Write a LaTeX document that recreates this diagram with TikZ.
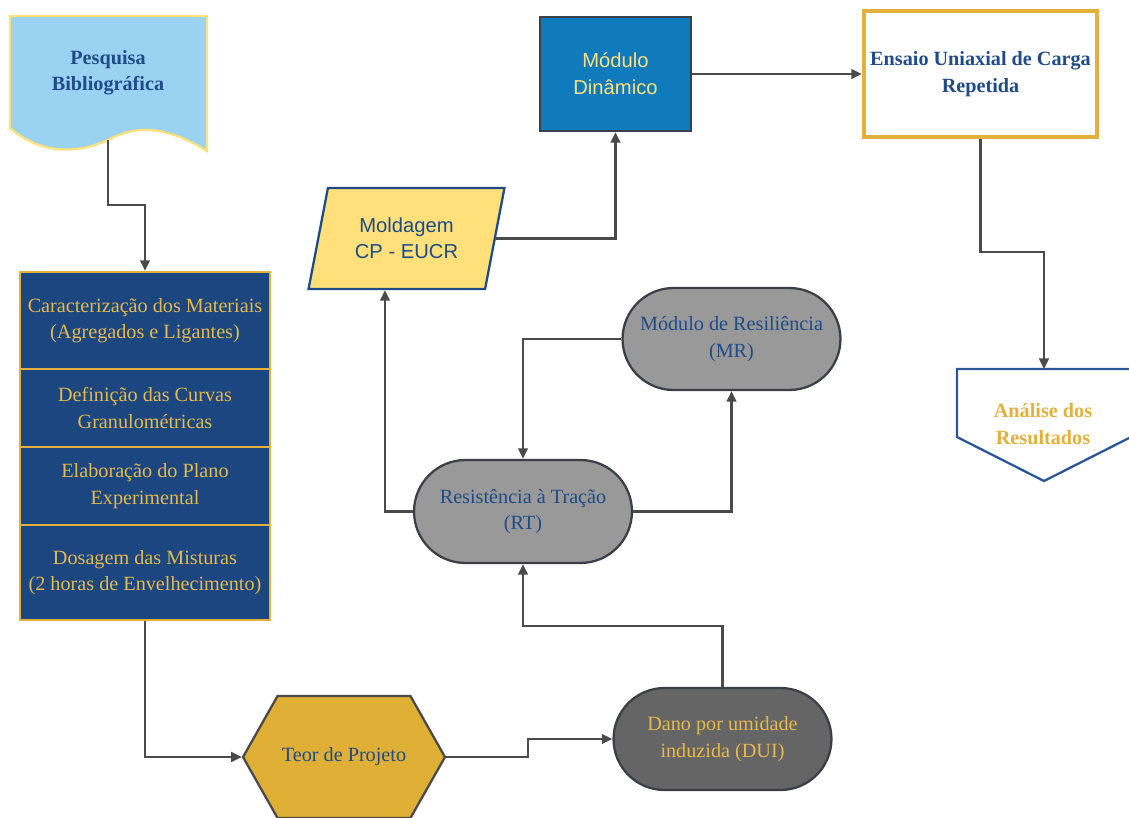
\documentclass[tikz,border=0pt]{standalone}
\usepackage{fontspec}
\setmainfont{Liberation Serif}
\setsansfont{Liberation Sans}
\usetikzlibrary{arrows.meta,shapes.misc,shapes.geometric,shapes.symbols}

\definecolor{navy}{HTML}{1B4680}
\definecolor{gold}{HTML}{E2B13C}
\definecolor{goldtext}{HTML}{E5B94B}
\definecolor{textblue}{HTML}{1F4B87}
\definecolor{skyblue}{HTML}{9AD2F2}
\definecolor{paleyellow}{HTML}{FFE07A}
\definecolor{ochre}{HTML}{DFAF36}
\definecolor{pillgray}{HTML}{999999}
\definecolor{darkgray}{HTML}{656565}
\definecolor{edgegray}{HTML}{3B4048}
\definecolor{linegray}{HTML}{4A4A4A}
\definecolor{oceanblue}{HTML}{0F7BBC}
\definecolor{frameblue}{HTML}{2A5599}

\tikzset{
  txt/.style={font=\fontsize{11.5}{15}\selectfont, align=center},
  flow/.style={draw=linegray, line width=1.3pt, -{Triangle[length=6pt,width=5.5pt]}},
  stackbox/.style={txt, rectangle, draw=gold, fill=navy, text=goldtext,
    line width=1.3pt, minimum width=5cm, inner sep=2pt},
  pill/.style={txt, rounded rectangle, draw=edgegray, fill=pillgray,
    text=textblue, line width=1.3pt, minimum width=4.5cm,
    minimum height=2.04cm, inner sep=2pt},
}

\begin{document}
\begin{tikzpicture}[x=0.02cm,y=-0.02cm]
\useasboundingbox (0,0) rectangle (1129,818);

%PESQUISA
\draw[draw=paleyellow, fill=skyblue, line width=1.3pt]
  (10,16) -- (10,128) .. controls (45,158) and (85,152) .. (112,138)
  .. controls (140,124) and (170,128) .. (207,151) -- (207,16) -- cycle;
\node (pesq) at (108,73) [txt, text=textblue, font=\fontsize{11.5}{15}\selectfont\bfseries]
  {Pesquisa\\Bibliográfica};
\coordinate (pesqout) at (108,140);

%STACK
\node (carac) at (145,320.5) [stackbox, minimum height=1.94cm]
  {Caracterização dos Materiais\\(Agregados e Ligantes)};
\node (curvas) at (145,408) [stackbox, minimum height=1.56cm]
  {Definição das Curvas\\Granulométricas};
\node (plano) at (145,486) [stackbox, minimum height=1.56cm]
  {Elaboração do Plano\\Experimental};
\node (dosag) at (145,572.5) [stackbox, minimum height=1.9cm]
  {Dosagem das Misturas\\(2 horas de Envelhecimento)};

%TEOR
\node (teor) at (344,757) [txt, signal, signal to=west and east,
  signal pointer angle=121, draw=linegray, fill=ochre, text=textblue,
  line width=1.3pt, minimum width=4.04cm, minimum height=2.44cm, inner sep=0pt]
  {Teor de Projeto};

%ENSAIOS
\node (dano) at (722.5,739) [pill, fill=darkgray, text=goldtext]
  {Dano por umidade\\induzida (DUI)};
\node (rt) at (523,511.5) [pill, minimum height=2.06cm]
  {Resistência à Tração\\(RT)};
\node (mr) at (731.5,339) [pill] {Módulo de Resiliência\\(MR)};

%MOLDAGEM
\node (mold) at (406.5,238.5) [txt, trapezium, trapezium left angle=75,
  trapezium right angle=105, trapezium stretches=true, draw=textblue,
  fill=paleyellow, text=textblue, line width=1.3pt, minimum width=3.94cm,
  minimum height=2.02cm, font=\fontsize{11.5}{15}\sffamily]
  {Moldagem\\CP - EUCR};
\node (md) at (615.5,74) [txt, rectangle, draw=edgegray, fill=oceanblue,
  text=paleyellow, line width=1.3pt, minimum width=3.02cm,
  minimum height=2.28cm, font=\fontsize{11.5}{15.5}\sffamily]
  {Módulo\\Dinâmico};
\node (ens) at (980.5,74) [txt, rectangle, draw=gold, fill=white,
  text=textblue, line width=2.4pt, minimum width=4.66cm,
  minimum height=2.52cm, inner sep=1pt, font=\fontsize{11.5}{15}\selectfont\bfseries]
  {Ensaio Uniaxial de Carga\\Repetida};

%ANALISE
\draw[draw=frameblue, fill=white, line width=1.3pt]
  (957,369) -- (1131,369) -- (1131,437) -- (1044,481) -- (957,437) -- cycle;
\node (ana) at (1043,424) [txt, text=gold, font=\fontsize{11.5}{15}\selectfont\bfseries]
  {Análise dos\\Resultados};
\coordinate (anain) at (1044,369);

%LIGACOES
\draw[flow] (pesqout) -- (108,205) -| (carac.north);
\draw[flow] (dosag.south) |- (teor.west);
\draw[flow] (teor.east) -- (528,757) |- (dano.west);
\draw[flow] (dano.north) -- (722.5,626) -| (rt.south);
\draw[flow] (rt.east) -| (mr.south);
\draw[flow] (mr.west) -| (rt.north);
\draw[flow] (rt.west) -| ([xshift=-0.43cm]mold.south);
\draw[flow] (mold.east) -| (md.south);
\draw[flow] (md.east) -- (ens.west);
\draw[flow] (ens.south) -- (980.5,252) -| (anain);
\end{tikzpicture}
\end{document}
